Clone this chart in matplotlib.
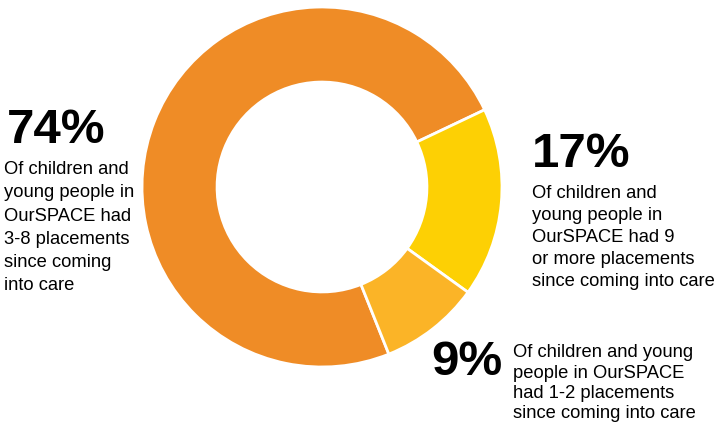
import matplotlib.pyplot as plt

# slice values (percent) and colours
values = [74, 17, 9]
colors = ['#EF8C26', '#FDD004', '#FBB427']

# label blocks: big number and the description lines
big_labels = ['74%', '17%', '9%']
desc_lines = [
    ['Of children and', 'young people in', 'OurSPACE had', '3-8 placements',
     'since coming', 'into care'],
    ['Of children and', 'young people in', 'OurSPACE had 9',
     'or more placements', 'since coming into care'],
    ['Of children and young', 'people in OurSPACE', 'had 1-2 placements',
     'since coming into care'],
]

W, H = 714, 426
fig = plt.figure(figsize=(W / 100, H / 100), dpi=100)
plt.rcParams['font.family'] = ['Liberation Sans', 'DejaVu Sans']

## Donut: square axes placed in pixels (centre 322,187 radius 180)
cx, cy, r = 322, 187, 180
ax = fig.add_axes([(cx - r) / W, 1 - (cy + r) / H, 2 * r / W, 2 * r / H])
ax.pie(values, colors=colors, startangle=-68.2, counterclock=False,
       radius=1, wedgeprops=dict(width=0.417, edgecolor='white', linewidth=2))
ax.set_xlim(-1, 1)
ax.set_ylim(-1, 1)
ax.axis('off')


def px(x, y):
    return x / W, 1 - y / H


## Big numbers (x, baseline y in pixels)
big_pos = [(7, 143), (532, 167), (431, 375)]
for lab, (x, y) in zip(big_labels, big_pos):
    fig.text(*px(x, y), lab, fontsize=35.5, fontweight='bold',
             va='baseline', ha='left', color='black')

## Description text (x, first baseline, line step in pixels)
desc_pos = [(4, 174, 23.3), (532, 198, 22), (513, 357, 20.5)]
for lines, (x, y0, step) in zip(desc_lines, desc_pos):
    for i, line in enumerate(lines):
        fig.text(*px(x, y0 + i * step), line, fontsize=13.2,
                 va='baseline', ha='left', color='black')

plt.savefig('out.png', dpi=100)
